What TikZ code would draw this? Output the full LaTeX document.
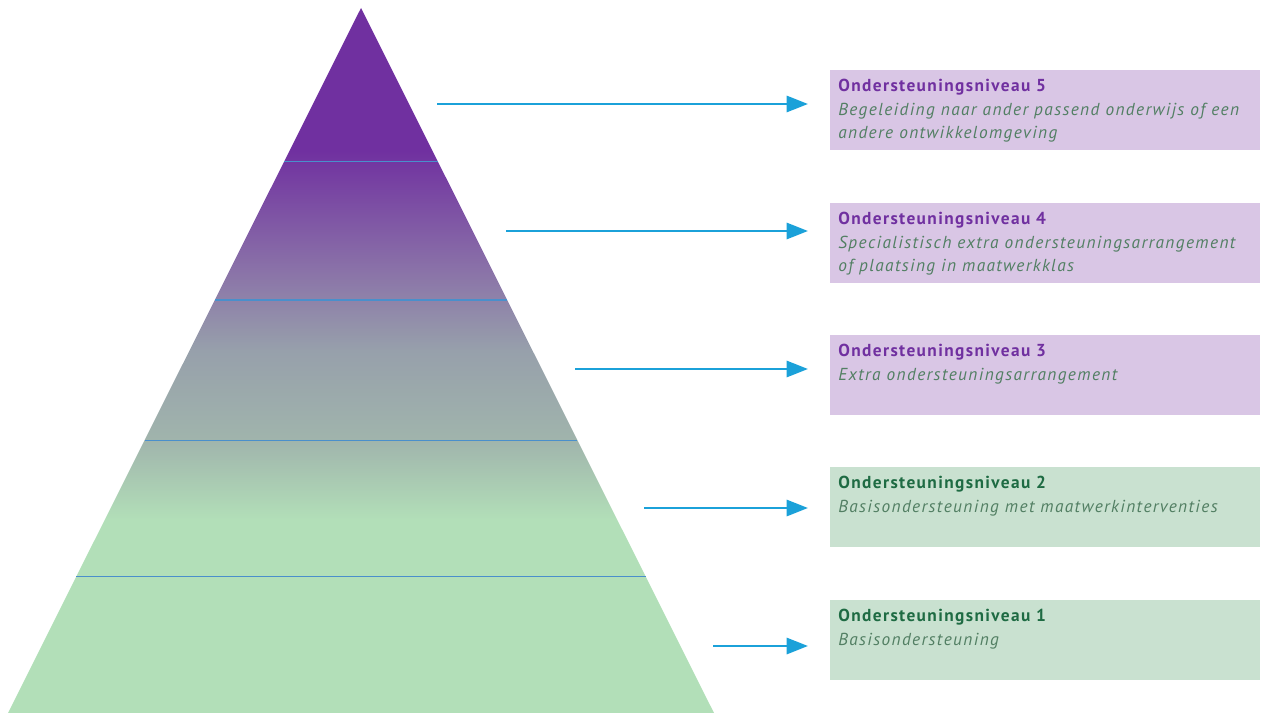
\documentclass[tikz,border=0pt]{standalone}
\usepackage{fontspec}
\setmainfont{PT Sans}[LetterSpace=8]
\usetikzlibrary{calc,arrows.meta}

\definecolor{topviolet}{HTML}{7030A0}
\definecolor{midviolet}{HTML}{8A72A8}
\definecolor{midgrey}{HTML}{97A0AB}
\definecolor{greygreen}{HTML}{A0B4AC}
\definecolor{lightgreen}{HTML}{B2DFB8}
\definecolor{sepblue}{HTML}{4A8FCB}
\definecolor{arrowblue}{HTML}{1BA1D9}
\definecolor{lavenderbox}{HTML}{D9C6E5}
\definecolor{greenbox}{HTML}{C9E1D0}
\definecolor{titlegreen}{HTML}{1E6B43}
\definecolor{subtext}{HTML}{527F63}

\pgfdeclareverticalshading{pyramidfade}{100bp}{color(0bp)=(lightgreen); color(38.7bp)=(lightgreen); color(44.4bp)=(greygreen); color(50.7bp)=(midgrey); color(56.4bp)=(midviolet); color(64.9bp)=(topviolet); color(100bp)=(topviolet)}

\tikzset{
	sepline/.style={line width=1pt, color=sepblue},
	levelarrow/.style={line width=2.2pt, color=arrowblue, -{Triangle[length=16pt,width=12pt]}, shorten >=16.5pt},
	levelbox/.style={anchor=north west, minimum width=322.5pt, minimum height=60pt, inner sep=0pt},
	leveltext/.style={anchor=north west, align=left, inner sep=0pt, font=\fontsize{13}{17.6}\selectfont}
}
\newcommand{\leveltitle}[2]{\textbf{\textcolor{#1}{#2}}}

\begin{document}
\begin{tikzpicture}[x=0.75pt, y=-0.75pt]
			%%%%% START %%%%%
			\useasboundingbox (0, 0) rectangle (1264, 713);
			
			\coordinate (apex) at (361, 8);
			\coordinate (baseL) at (8, 713);
			\coordinate (baseR) at (714, 713);
			\shade[shading=pyramidfade] (apex) -- (baseR) -- (baseL) -- cycle;
			
			\draw[sepline] ($(apex)!0.218!(baseL)$) -- ($(apex)!0.218!(baseR)$);
			\draw[sepline] ($(apex)!0.414!(baseL)$) -- ($(apex)!0.414!(baseR)$);
			\draw[sepline] ($(apex)!0.613!(baseL)$) -- ($(apex)!0.613!(baseR)$);
			\draw[sepline] ($(apex)!0.806!(baseL)$) -- ($(apex)!0.806!(baseR)$);
			
			\node[levelbox, fill=lavenderbox] (b5) at (830, 70) {};
			\node[levelbox, fill=lavenderbox] (b4) at (830, 203) {};
			\node[levelbox, fill=lavenderbox] (b3) at (830, 335) {};
			\node[levelbox, fill=greenbox] (b2) at (830, 467) {};
			\node[levelbox, fill=greenbox] (b1) at (830, 600) {};
			
			\node[leveltext] (t5) at ([xshift=6pt, yshift=-7pt]b5.north west) {\leveltitle{topviolet}{Ondersteuningsniveau 5}\\ \textcolor{subtext}{\itshape Begeleiding naar ander passend onderwijs of een}\\ \textcolor{subtext}{\itshape andere ontwikkelomgeving}};
			\node[leveltext] (t4) at ([xshift=6pt, yshift=-7pt]b4.north west) {\leveltitle{topviolet}{Ondersteuningsniveau 4}\\ \textcolor{subtext}{\itshape Specialistisch extra ondersteuningsarrangement}\\ \textcolor{subtext}{\itshape of plaatsing in maatwerkklas}};
			\node[leveltext] (t3) at ([xshift=6pt, yshift=-7pt]b3.north west) {\leveltitle{topviolet}{Ondersteuningsniveau 3}\\ \textcolor{subtext}{\itshape Extra ondersteuningsarrangement}};
			\node[leveltext] (t2) at ([xshift=6pt, yshift=-7pt]b2.north west) {\leveltitle{titlegreen}{Ondersteuningsniveau 2}\\ \textcolor{subtext}{\itshape Basisondersteuning met maatwerkinterventies}};
			\node[leveltext] (t1) at ([xshift=6pt, yshift=-7pt]b1.north west) {\leveltitle{titlegreen}{Ondersteuningsniveau 1}\\ \textcolor{subtext}{\itshape Basisondersteuning}};
			
			\coordinate (s5) at (437, 104);
			\coordinate (s4) at (506, 231);
			\coordinate (s3) at (575, 369);
			\coordinate (s2) at (644, 508);
			\coordinate (s1) at (713, 646);
			
			\draw[levelarrow] (s5) -- (s5 -| b5.west);
			\draw[levelarrow] (s4) -- (s4 -| b4.west);
			\draw[levelarrow] (s3) -- (s3 -| b3.west);
			\draw[levelarrow] (s2) -- (s2 -| b2.west);
			\draw[levelarrow] (s1) -- (s1 -| b1.west);
			%%%%% END %%%%%
\end{tikzpicture}
\end{document}
